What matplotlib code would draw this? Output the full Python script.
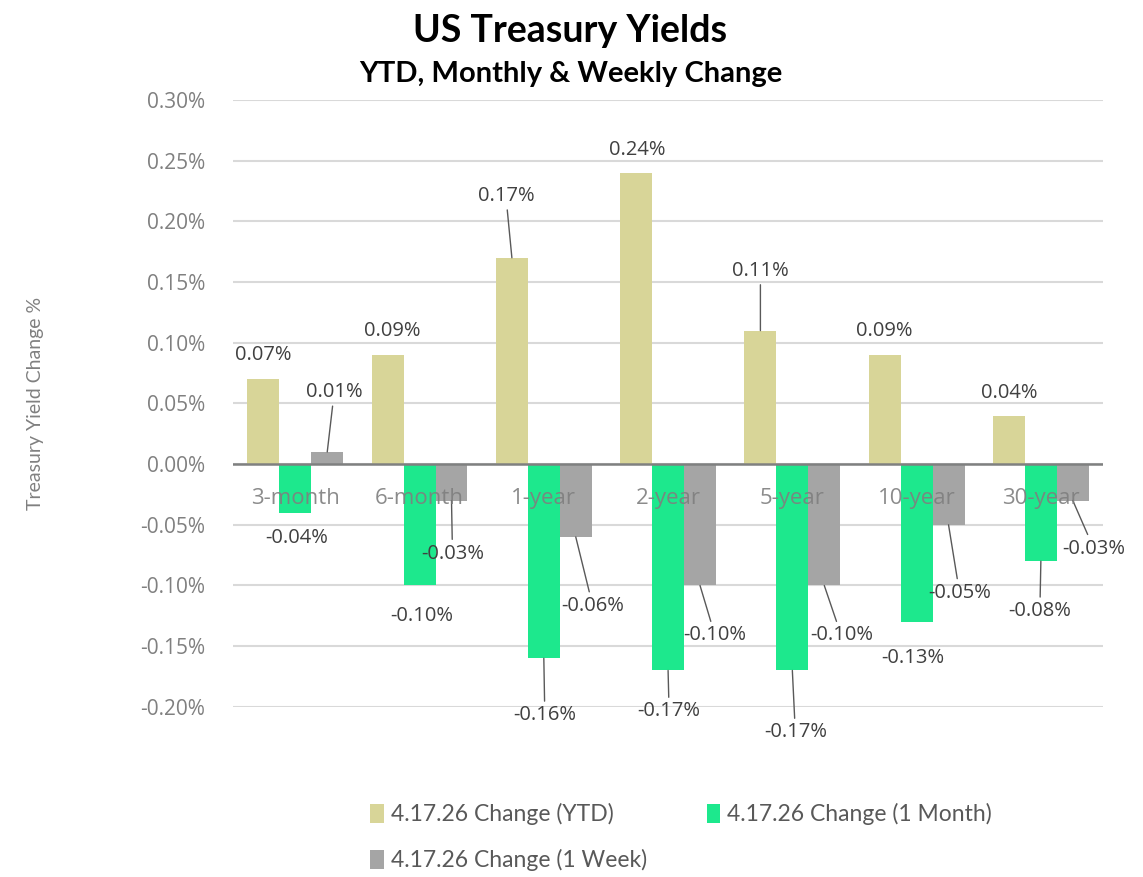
import numpy as np
import matplotlib.pyplot as plt

# US Treasury yield changes, in percent
tenors = ['3-month', '6-month', '1-year', '2-year', '5-year', '10-year', '30-year']
chg_ytd = [0.07, 0.09, 0.17, 0.24, 0.11, 0.09, 0.04]
chg_1m = [-0.04, -0.10, -0.16, -0.17, -0.17, -0.13, -0.08]
chg_1w = [0.01, -0.03, -0.06, -0.10, -0.10, -0.05, -0.03]
series_names = ['4.17.26 Change (YTD)', '4.17.26 Change (1 Month)', '4.17.26 Change (1 Week)']
yticks = [-0.20, -0.15, -0.10, -0.05, 0.0, 0.05, 0.10, 0.15, 0.20, 0.25, 0.30]

colors = ['#d8d598', '#1de88d', '#a5a5a5']

# label offsets in pixels from the bar end (dx, dy), with/without leader line
lbl_ytd = [(0, 24, 0), (5, 24, 0), (-6, 62, 1), (1, 23, 0), (0, 60, 1), (0, 24, 0), (0, 23, 0)]
lbl_1m = [(1, -25, 0), (2, -31, 0), (1, -57, 1), (1, -41, 1), (3, -62, 1), (-4, -36, 0), (-1, -50, 1)]
lbl_1w = [(7, 60, 1), (1, -53, 1), (17, -69, 1), (15, -50, 1), (17, -50, 1), (11, -68, 1), (21, -48, 1)]

fig = plt.figure(figsize=(11.43, 8.77), dpi=100)
ax = fig.add_axes([0.204, 0.194, 0.761, 0.692])

x = np.arange(len(tenors))
w = 0.257
all_series = [chg_ytd, chg_1m, chg_1w]
all_lbls = [lbl_ytd, lbl_1m, lbl_1w]
handles = []
for k, (vals, lbls) in enumerate(zip(all_series, all_lbls)):
    xs = x + (k - 1) * w
    b = ax.bar(xs, vals, width=w, color=colors[k], zorder=3,
               edgecolor='none', label=series_names[k])
    handles.append(b)
    for xi, v, (dx, dy, lead) in zip(xs, vals, lbls):
        ap = None
        if lead:
            ap = dict(arrowstyle='-', color='#595959', lw=1.0,
                      shrinkA=1, shrinkB=0)
        ax.annotate('%.2f%%' % v, xy=(xi, v), xytext=(dx, dy),
                    textcoords='offset pixels', ha='center', va='center',
                    fontsize=14.5, color='#404040', family='Open Sans',
                    arrowprops=ap, zorder=5)

ax.set_ylim(-0.20, 0.30)
ax.set_xlim(-0.5, len(tenors) - 0.5)
ax.set_yticks(yticks)
ax.set_yticklabels(['%.2f%%' % t for t in yticks], family='Open Sans',
                   fontsize=15, color='#808080')
ax.tick_params(axis='y', length=0, pad=20)
ax.grid(axis='y', color='#d9d9d9', lw=1.5, zorder=0)
ax.axhline(0, color='#7f8080', lw=1.8, zorder=4)

ax.set_xticks([])
for xi, name in zip(x, tenors):
    ax.text(xi, -0.028, name, ha='center', va='center', fontsize=16,
            color='#7f7f7f', family='Open Sans', zorder=6, alpha=0.9)

for s in ax.spines.values():
    s.set_visible(False)

ax.set_ylabel('Treasury Yield Change %', family='Lato', fontsize=14,
              color='#808080')
ax.yaxis.set_label_coords(-0.218, 0.5)

fig.text(0.499, 0.965, 'US Treasury Yields', ha='center', va='center',
         family='Lato', weight='bold', fontsize=27, color='black')
fig.text(0.499, 0.916, 'YTD, Monthly & Weekly Change', ha='center', va='center',
         family='Lato', weight='bold', fontsize=21, color='black')

# row-major order in legend: YTD, 1 Month / 1 Week
leg = fig.legend(handles=[handles[0], handles[2], handles[1]],
                 loc='upper left', bbox_to_anchor=(0.306, 0.108),
                 ncol=2, frameon=False, prop={'family': 'Lato', 'size': 16.5},
                 handlelength=0.6, handleheight=0.9, handletextpad=0.3,
                 columnspacing=2.6, labelspacing=1.05)
for t in leg.get_texts():
    t.set_color('#595959')

fig.savefig('out.png', dpi=100)
